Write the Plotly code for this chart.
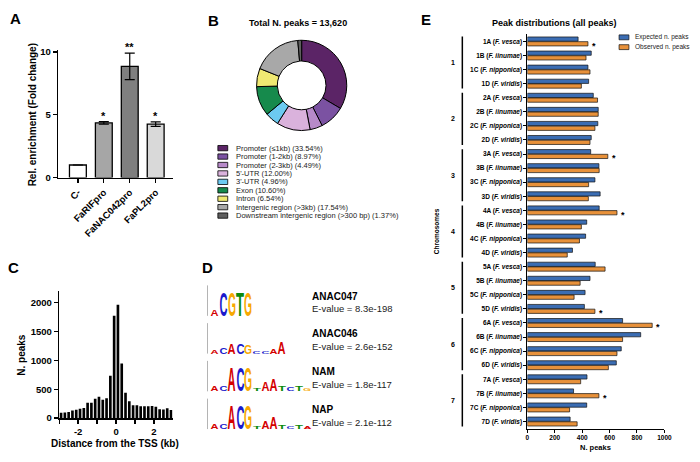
import plotly.graph_objects as go

W, H = 700, 462
FONT = "Liberation Sans, Arial, Helvetica, sans-serif"


def X(p):
    return p / W


def Y(p):
    return 1 - p / H


# ---------------- Panel A data ----------------
catsA = ["C-", "FaRIFpro", "FaNAC042pro", "FaPL2pro"]
valsA = [1.0, 4.35, 8.85, 4.25]
errA = [0.0, 0.10, 1.05, 0.18]
sigA = ["", "*", "**", "*"]
colorsA = ["#ffffff", "#a6a6a6", "#7f7f7f", "#d9d9d9"]

# ---------------- Panel B data ----------------
labelsB = ["Promoter (\u22641kb)", "Promoter (1-2kb)", "Promoter (2-3kb)", "5'-UTR", "3'-UTR",
           "Exon", "Intron", "Intergenic region (>3kb)", "Downstream intergenic region (>300 bp)"]
pctB = [33.54, 8.97, 4.49, 12.00, 4.96, 10.60, 6.54, 17.54, 1.37]
colorsB = ["#5b2466", "#7b52a2", "#b78ac9", "#dab2dc", "#6ccaf1", "#168a4c", "#f0e972", "#a8a8a8", "#5e5e5e"]
totalB = "13,620"

# ---------------- Panel C data ----------------
binsC = [-2.9, -2.7, -2.5, -2.3, -2.1, -1.9, -1.7, -1.5, -1.3, -1.1, -0.9, -0.7, -0.5, -0.3, -0.1,
         0.1, 0.3, 0.5, 0.7, 0.9, 1.1, 1.3, 1.5, 1.7, 1.9, 2.1, 2.3, 2.5, 2.7, 2.9]
countsC = [92, 95, 105, 130, 145, 160, 176, 265, 265, 335, 370, 320, 345, 735, 1775,
           1965, 945, 440, 290, 222, 222, 207, 205, 205, 210, 195, 155, 148, 170, 138]
ticksC = [-3, -2, -1, 0, 1, 2, 3]
tickTextC = ["", "-2", "", "0", "", "2", ""]
ticksCy = [0, 500, 1000, 1500, 2000]

# ---------------- Panel D data ----------------
namesD = ["ANAC047", "ANAC046", "NAM", "NAP"]
evaluesD = ["8.3e-198", "2.6e-152", "1.8e-117", "2.1e-112"]
logosD = [
    [("A", 0.45), ("C", 1.55), ("G", 1.55), ("T", 1.55), ("G", 1.55)],
    [("A", 0.22), ("C", 0.45), ("A", 0.68), ("C", 0.68), ("G", 0.6), ("C", 0.2), ("C", 0.2),
     ("A", 0.3), ("A", 0.78)],
    [("A", 0.3), ("C", 0.35), ("A", 1.55), ("C", 1.5), ("G", 1.5), ("T", 0.2), ("A", 0.55),
     ("A", 0.75), ("T", 0.3), ("C", 0.22), ("T", 0.3), ("G", 0.15)],
    [("A", 0.3), ("C", 0.35), ("A", 1.55), ("C", 1.55), ("G", 1.5), ("T", 0.2), ("A", 0.5),
     ("A", 0.75), ("T", 0.25), ("C", 0.2), ("T", 0.25), ("A", 0.12)],
]
letterColors = {"A": "#d40000", "C": "#1a1acc", "G": "#f7a800", "T": "#0b8a0b"}
letterWidthEm = {"A": 0.722, "C": 0.722, "G": 0.778, "T": 0.611}

# ---------------- Panel E data ----------------
chromE = ["1", "2", "3", "4", "5", "6", "7"]
subE = ["A", "B", "C", "D"]
speciesE = ["F. vesca", "F. iinumae", "F. nipponica", "F. viridis"]
expE = [370, 466, 442, 447, 481, 517, 514, 466, 462, 522, 493, 531, 524, 433,
        425, 329, 495, 457, 421, 416, 695, 827, 685, 649, 435, 337, 433, 312]
obsE = [442, 428, 457, 394, 512, 517, 493, 457, 587, 524, 447, 445, 654, 394,
        380, 291, 567, 385, 341, 493, 911, 695, 654, 591, 389, 522, 308, 363]
sigE = [1, 0, 0, 0, 0, 0, 0, 0, 1, 0, 0, 0, 1, 0, 0, 0, 0, 0, 0, 1, 1, 0, 0, 0, 0, 1, 0, 0]
seriesNamesE = ["Expected n. peaks", "Observed n. peaks"]
colorsE = ["#3b6db3", "#e8913a"]
ticksEx = [0, 200, 400, 600, 800, 1000]

labelsE = [f"{c}{s} (<i>{sp}</i>)" for c in chromE for s, sp in zip(subE, speciesE)]
posE = list(range(len(labelsE)))

# ---------------- traces ----------------
fig = go.Figure()

fig.add_trace(go.Bar(
    x=catsA, y=valsA, width=0.65, xaxis="x", yaxis="y",
    marker=dict(color=colorsA, line=dict(color="black", width=1.3)),
    error_y=dict(type="data", array=errA, color="black", thickness=1.2, width=5),
))

fig.add_trace(go.Pie(
    values=pctB, labels=labelsB, sort=False, direction="clockwise", rotation=0,
    hole=0.54, textinfo="none",
    marker=dict(colors=colorsB, line=dict(color="black", width=1)),
    domain=dict(x=[X(304 - 46), X(304 + 46)], y=[Y(83 + 46), Y(83 - 46)]),
))

fig.add_trace(go.Bar(
    x=binsC, y=countsC, width=0.14, xaxis="x2", yaxis="y2",
    marker=dict(color="black", line=dict(width=0)),
))

for name, vals, col in zip(seriesNamesE, [expE, obsE], colorsE):
    fig.add_trace(go.Bar(
        name=name, x=vals, y=posE, orientation="h", xaxis="x3", yaxis="y3",
        marker=dict(color=col, line=dict(color="#111111", width=0.7)),
    ))

fig.add_trace(go.Scatter(x=[], y=[], xaxis="x4", yaxis="y4", hoverinfo="skip"))

# ---------------- annotations & shapes ----------------
ann = []
shapes = []


def text(x, y, t, size, bold=False, xanchor="center", yanchor="middle", angle=0, color="black",
         xref="paper", yref="paper", **kw):
    ann.append(dict(x=x, y=y, text=t, xref=xref, yref=yref, showarrow=False,
                    xanchor=xanchor, yanchor=yanchor, textangle=angle,
                    font=dict(family=FONT, size=size, color=color,
                              weight="bold" if bold else "normal"), **kw))


# panel letters
for lab, (px_, py_) in zip("ABCDE", [(14, 15), (215, 17), (12, 269), (208, 269), (430, 16)]):
    text(X(px_), Y(py_), lab, 15, bold=True)

# Panel A
text(X(31), Y(113), "Rel. enrichment (Fold change)", 10, bold=True, angle=-90)
for c, v, e, s in zip(catsA, valsA, errA, sigA):
    if s:
        text(c, v + e, s, 11, bold=True, yanchor="bottom", xref="x", yref="y", yshift=-2)

# Panel B
text(X(300), Y(19), f"Total N. peaks = {totalB}", 9, bold=True)
for i, (lab, p, col) in enumerate(zip(labelsB, pctB, colorsB)):
    cy = 147 + i * 8.6
    shapes.append(dict(type="rect", xref="paper", yref="paper", x0=X(219), x1=X(229),
                       y0=Y(cy + 2.7), y1=Y(cy - 2.7), fillcolor=col,
                       line=dict(color="black", width=0.8)))
    text(X(235), Y(cy), f"{lab} ({p:.2f}%)", 7.5, xanchor="left", color="#222222")

# Panel C
text(X(19), Y(358), "N. peaks", 10, bold=True, angle=-90)
text(X(115), Y(448), "Distance from the TSS (kb)", 10, bold=True)

# Panel D
PX_PER_BIT = 15.5
LOGO_TOP, LOGO_BOTTOM = 282, 440
baseline_px = [318 + 38.5 * r for r in range(len(logosD))]
F_LOGO = 10
for r, (nm, ev, logo) in enumerate(zip(namesD, evaluesD, logosD)):
    base = (LOGO_BOTTOM - baseline_px[r]) / PX_PER_BIT
    for i, (let, bits) in enumerate(logo):
        sx = 8.0 / (letterWidthEm[let] * F_LOGO)
        sy = bits * PX_PER_BIT / (0.716 * F_LOGO)
        ann.append(dict(x=i, y=base, xref="x4", yref="y4", text=let, showarrow=False,
                        xanchor="center", yanchor="bottom", yshift=-(0.212 * F_LOGO + 2),
                        name=f"logo|{sx:.3f}|{sy:.3f}",
                        font=dict(family=FONT, size=F_LOGO, color=letterColors[let], weight="bold")))
    # bits axis
    shapes.append(dict(type="line", xref="x4", yref="y4", x0=-0.94, x1=-0.94, y0=base, y1=base + 2,
                       line=dict(color="#444444", width=0.8)))
    for b in (0, 1, 2):
        shapes.append(dict(type="line", xref="x4", yref="y4", x0=-1.1, x1=-0.94, y0=base + b,
                           y1=base + b, line=dict(color="#444444", width=0.6)))
    text(-1.35, base + 1, "bits", 3.5, angle=-90, xref="x4", yref="y4", color="#444444")
    text(X(312), Y(baseline_px[r] - 20), nm, 10, bold=True, xanchor="left")
    text(X(312), Y(baseline_px[r] - 7), f"E-value = {ev}", 9.5, xanchor="left", color="#222222")

# Panel E
text(X(560), Y(19), "Peak distributions (all peaks)", 9, bold=True)
text(X(602), Y(452), "N. peaks", 7.5, bold=True)
text(X(441), Y(232), "Chromosomes", 6.5, bold=True, angle=-90)
for k, c in enumerate(chromE):
    shapes.append(dict(type="line", xref="paper", yref="y3", x0=X(467), x1=X(467),
                       y0=4 * k - 0.35, y1=4 * k + 3.35, line=dict(color="black", width=1.5)))
    text(X(458), 4 * k + 1.5, c, 7, bold=True, yref="y3")
for p, o, s in zip(posE, obsE, sigE):
    if s:
        text(o + 43, p + 0.17, "*", 9, bold=True, xref="x3", yref="y3", yshift=-2)
for j, (nm, col) in enumerate(zip(seriesNamesE, colorsE)):
    cy = 34 + 10 * j
    shapes.append(dict(type="rect", xref="paper", yref="paper", x0=X(626), x1=X(636),
                       y0=Y(cy + 2.5), y1=Y(cy - 2.5), fillcolor=col,
                       line=dict(color="#111111", width=0.7)))
    text(X(640), Y(cy), nm, 6.5, xanchor="left", color="#222222")

# ---------------- layout ----------------
axis_common = dict(showgrid=False, zeroline=False, showline=True, linecolor="black",
                   ticks="outside", tickcolor="black", fixedrange=True)
tick_bold = lambda s: dict(family=FONT, size=s, color="black", weight="bold")

fig.update_layout(
    width=W, height=H, autosize=False,
    margin=dict(l=0, r=0, t=0, b=0, pad=0),
    paper_bgcolor="white", plot_bgcolor="white",
    showlegend=False,
    barmode="group", bargap=0.33, bargroupgap=0.1,
    font=dict(family=FONT, color="black"),
    xaxis=dict(**axis_common, domain=[X(57), X(173)], anchor="y", type="category",
               range=[-0.76, 3.65], linewidth=1.5, ticklen=4, tickwidth=1.3, tickangle=-45,
               tickfont=tick_bold(9.5)),
    yaxis=dict(**axis_common, domain=[Y(177), Y(47)], anchor="x", range=[0, 10.15],
               tickvals=[0, 5, 10], linewidth=1.5, ticklen=4, tickwidth=1.3,
               tickfont=tick_bold(9.5)),
    xaxis2=dict(**axis_common, domain=[X(58), X(173)], anchor="y2", range=[-3.0, 2.98],
                tickvals=ticksC, ticktext=tickTextC, linewidth=1.5, ticklen=4, tickwidth=1.3,
                tickfont=tick_bold(9.5)),
    yaxis2=dict(**axis_common, domain=[Y(422.3), Y(293)], anchor="x2", range=[0, 2200],
                tickvals=ticksCy, linewidth=1.5, ticklen=4, tickwidth=1.3,
                tickfont=tick_bold(9.5)),
    xaxis3=dict(**axis_common, domain=[X(533), X(672)], anchor="y3", range=[0, 1000],
                tickvals=ticksEx, linewidth=1, ticklen=3, tickwidth=1,
                tickfont=tick_bold(6.5)),
    yaxis3=dict(**axis_common, domain=[Y(433), Y(31)], anchor="x3", range=[27.5, -0.5],
                tickvals=posE, ticktext=labelsE, linewidth=1, ticklen=3, tickwidth=1,
                tickfont=tick_bold(6.5)),
    xaxis4=dict(visible=False, domain=[X(208), X(318)], anchor="y4", range=[-0.94, 12.0],
                fixedrange=True),
    yaxis4=dict(visible=False, domain=[Y(LOGO_BOTTOM), Y(LOGO_TOP)], anchor="x4",
                range=[0, (LOGO_BOTTOM - LOGO_TOP) / PX_PER_BIT], fixedrange=True),
    annotations=ann,
    shapes=shapes,
)

post = """
var gd = document.getElementById('{plot_id}');
function stretchLogos(){
  var anns = (gd.layout && gd.layout.annotations) || [];
  var groups = gd.querySelectorAll('g.annotation');
  for (var n = 0; n < groups.length; n++) {
    var g = groups[n];
    var a = anns[+g.getAttribute('data-index')];
    if (!a || typeof a.name !== 'string' || a.name.indexOf('logo|') !== 0) continue;
    var parts = a.name.split('|');
    var sx = parseFloat(parts[1]), sy = parseFloat(parts[2]);
    var t = g.querySelector('text.annotation-text');
    if (!t) continue;
    var xc = parseFloat(t.getAttribute('x')) || 0;
    var yb = parseFloat(t.getAttribute('y')) || 0;
    t.setAttribute('transform', 'translate(' + xc + ',' + yb + ') scale(' + sx + ',' + sy + ') translate(' + (-xc) + ',' + (-yb) + ')');
  }
}
stretchLogos();
gd.on('plotly_afterplot', stretchLogos);
"""

fig.write_html("out.html", config={"displayModeBar": False, "staticPlot": True}, post_script=post)
